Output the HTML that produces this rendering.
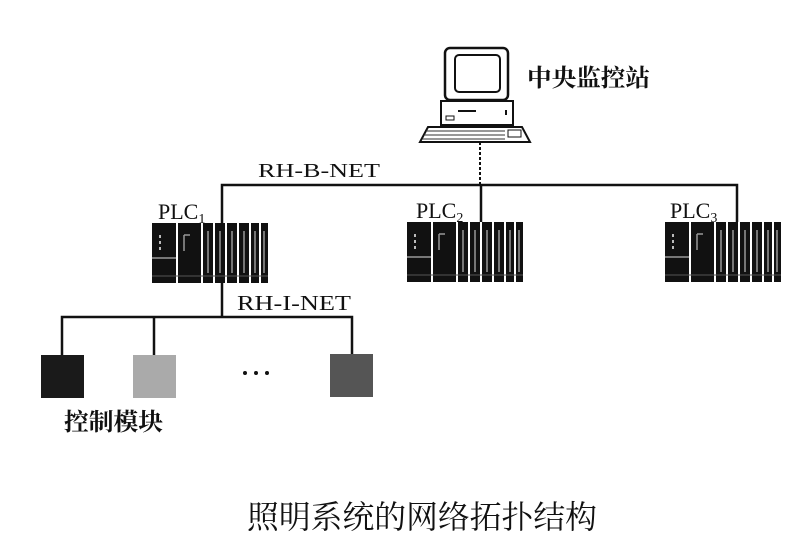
<!DOCTYPE html>
<html><head><meta charset="utf-8"><style>
html,body{margin:0;padding:0;background:#fff;}
svg{display:block}
text{font-family:"Liberation Serif","Noto Serif CJK SC",serif;fill:#111}
.cjk{font-family:"Liberation Serif","Noto Serif CJK SC",serif;font-weight:bold}
</style></head><body>
<svg width="799" height="544" viewBox="0 0 799 544" xmlns="http://www.w3.org/2000/svg">
<defs>
<g id="plc">
<rect x="0" y="0" width="116" height="60" fill="#111"/>
<g stroke="#fff" stroke-width="2">
<line x1="25" y1="0" x2="25" y2="60"/><line x1="50" y1="0" x2="50" y2="60"/>
<line x1="62" y1="0" x2="62" y2="60"/><line x1="74" y1="0" x2="74" y2="60"/>
<line x1="86" y1="0" x2="86" y2="60"/><line x1="98" y1="0" x2="98" y2="60"/>
<line x1="108" y1="0" x2="108" y2="60"/>
</g>
<g stroke="#999" stroke-width="1.5">
<line x1="56" y1="8" x2="56" y2="50"/><line x1="68" y1="8" x2="68" y2="50"/>
<line x1="80" y1="8" x2="80" y2="50"/><line x1="92" y1="8" x2="92" y2="50"/>
<line x1="103" y1="8" x2="103" y2="50"/><line x1="112" y1="8" x2="112" y2="50"/>
<line x1="32" y1="12" x2="32" y2="28"/><line x1="32" y1="12" x2="38" y2="12"/>
<line x1="0" y1="35" x2="24" y2="35"/>
</g>
<g fill="#bbb"><rect x="7" y="12" width="2" height="3"/><rect x="7" y="18" width="2" height="3"/><rect x="7" y="24" width="2" height="3"/></g>
<line x1="0" y1="53" x2="116" y2="53" stroke="#555" stroke-width="1"/>
</g>
</defs>

<!-- computer -->
<rect x="445" y="48" width="63" height="52" rx="5" fill="#fff" stroke="#111" stroke-width="2.5"/>
<rect x="455" y="55" width="45" height="37" rx="4" fill="#fff" stroke="#111" stroke-width="2"/>
<rect x="441" y="101" width="72" height="24" fill="#fff" stroke="#111" stroke-width="2"/>
<line x1="458" y1="111" x2="476" y2="111" stroke="#111" stroke-width="2"/>
<rect x="446" y="116" width="8" height="4" fill="none" stroke="#111" stroke-width="1"/>
<rect x="505" y="110" width="2" height="5" fill="#111"/>
<polygon points="428,127 522,127 530,142 420,142" fill="#fff" stroke="#111" stroke-width="2"/>
<g stroke="#333" stroke-width="1">
<line x1="426" y1="131" x2="505" y2="131"/><line x1="424" y1="135" x2="505" y2="135"/><line x1="422" y1="139" x2="505" y2="139"/>
</g>
<rect x="508" y="130" width="13" height="7" fill="#fff" stroke="#111" stroke-width="1"/>
<text x="527" y="86" class="cjk" font-size="24" textLength="123" lengthAdjust="spacingAndGlyphs">中央监控站</text>

<!-- connectors -->
<line x1="480" y1="142" x2="480" y2="185" stroke="#111" stroke-width="2" stroke-dasharray="3,2"/>
<polyline points="222,223 222,185 737,185 737,222" fill="none" stroke="#111" stroke-width="2.5"/>
<line x1="481" y1="185" x2="481" y2="222" stroke="#111" stroke-width="2.5"/>
<line x1="222" y1="223" x2="222" y2="318" stroke="#111" stroke-width="2.5"/>
<polyline points="62,355 62,317 352,317 352,355" fill="none" stroke="#111" stroke-width="2.5"/>
<line x1="154" y1="317" x2="154" y2="355" stroke="#111" stroke-width="2.5"/>

<text x="258" y="177" font-size="20" textLength="122" lengthAdjust="spacingAndGlyphs">RH-B-NET</text>
<text x="237" y="310" font-size="21" textLength="114" lengthAdjust="spacingAndGlyphs">RH-I-NET</text>
<text x="158" y="219" font-size="22">PLC<tspan font-size="14" dy="4">1</tspan></text>
<text x="416" y="218" font-size="22">PLC<tspan font-size="14" dy="4">2</tspan></text>
<text x="670" y="218" font-size="22">PLC<tspan font-size="14" dy="4">3</tspan></text>

<use href="#plc" x="152" y="223"/>
<use href="#plc" x="407" y="222"/>
<use href="#plc" x="665" y="222"/>

<rect x="41" y="355" width="43" height="43" fill="#1a1a1a"/>
<rect x="133" y="355" width="43" height="43" fill="#aaa"/>
<rect x="330" y="354" width="43" height="43" fill="#555"/>
<g fill="#111"><circle cx="245" cy="373" r="2"/><circle cx="256" cy="373" r="2"/><circle cx="267" cy="373" r="2"/></g>
<text x="64" y="430" class="cjk" font-size="24" textLength="99" lengthAdjust="spacingAndGlyphs">控制模块</text>

<text x="247" y="528" font-size="32" textLength="350" lengthAdjust="spacingAndGlyphs">照明系统的网络拓扑结构</text>
</svg>
</body></html>
